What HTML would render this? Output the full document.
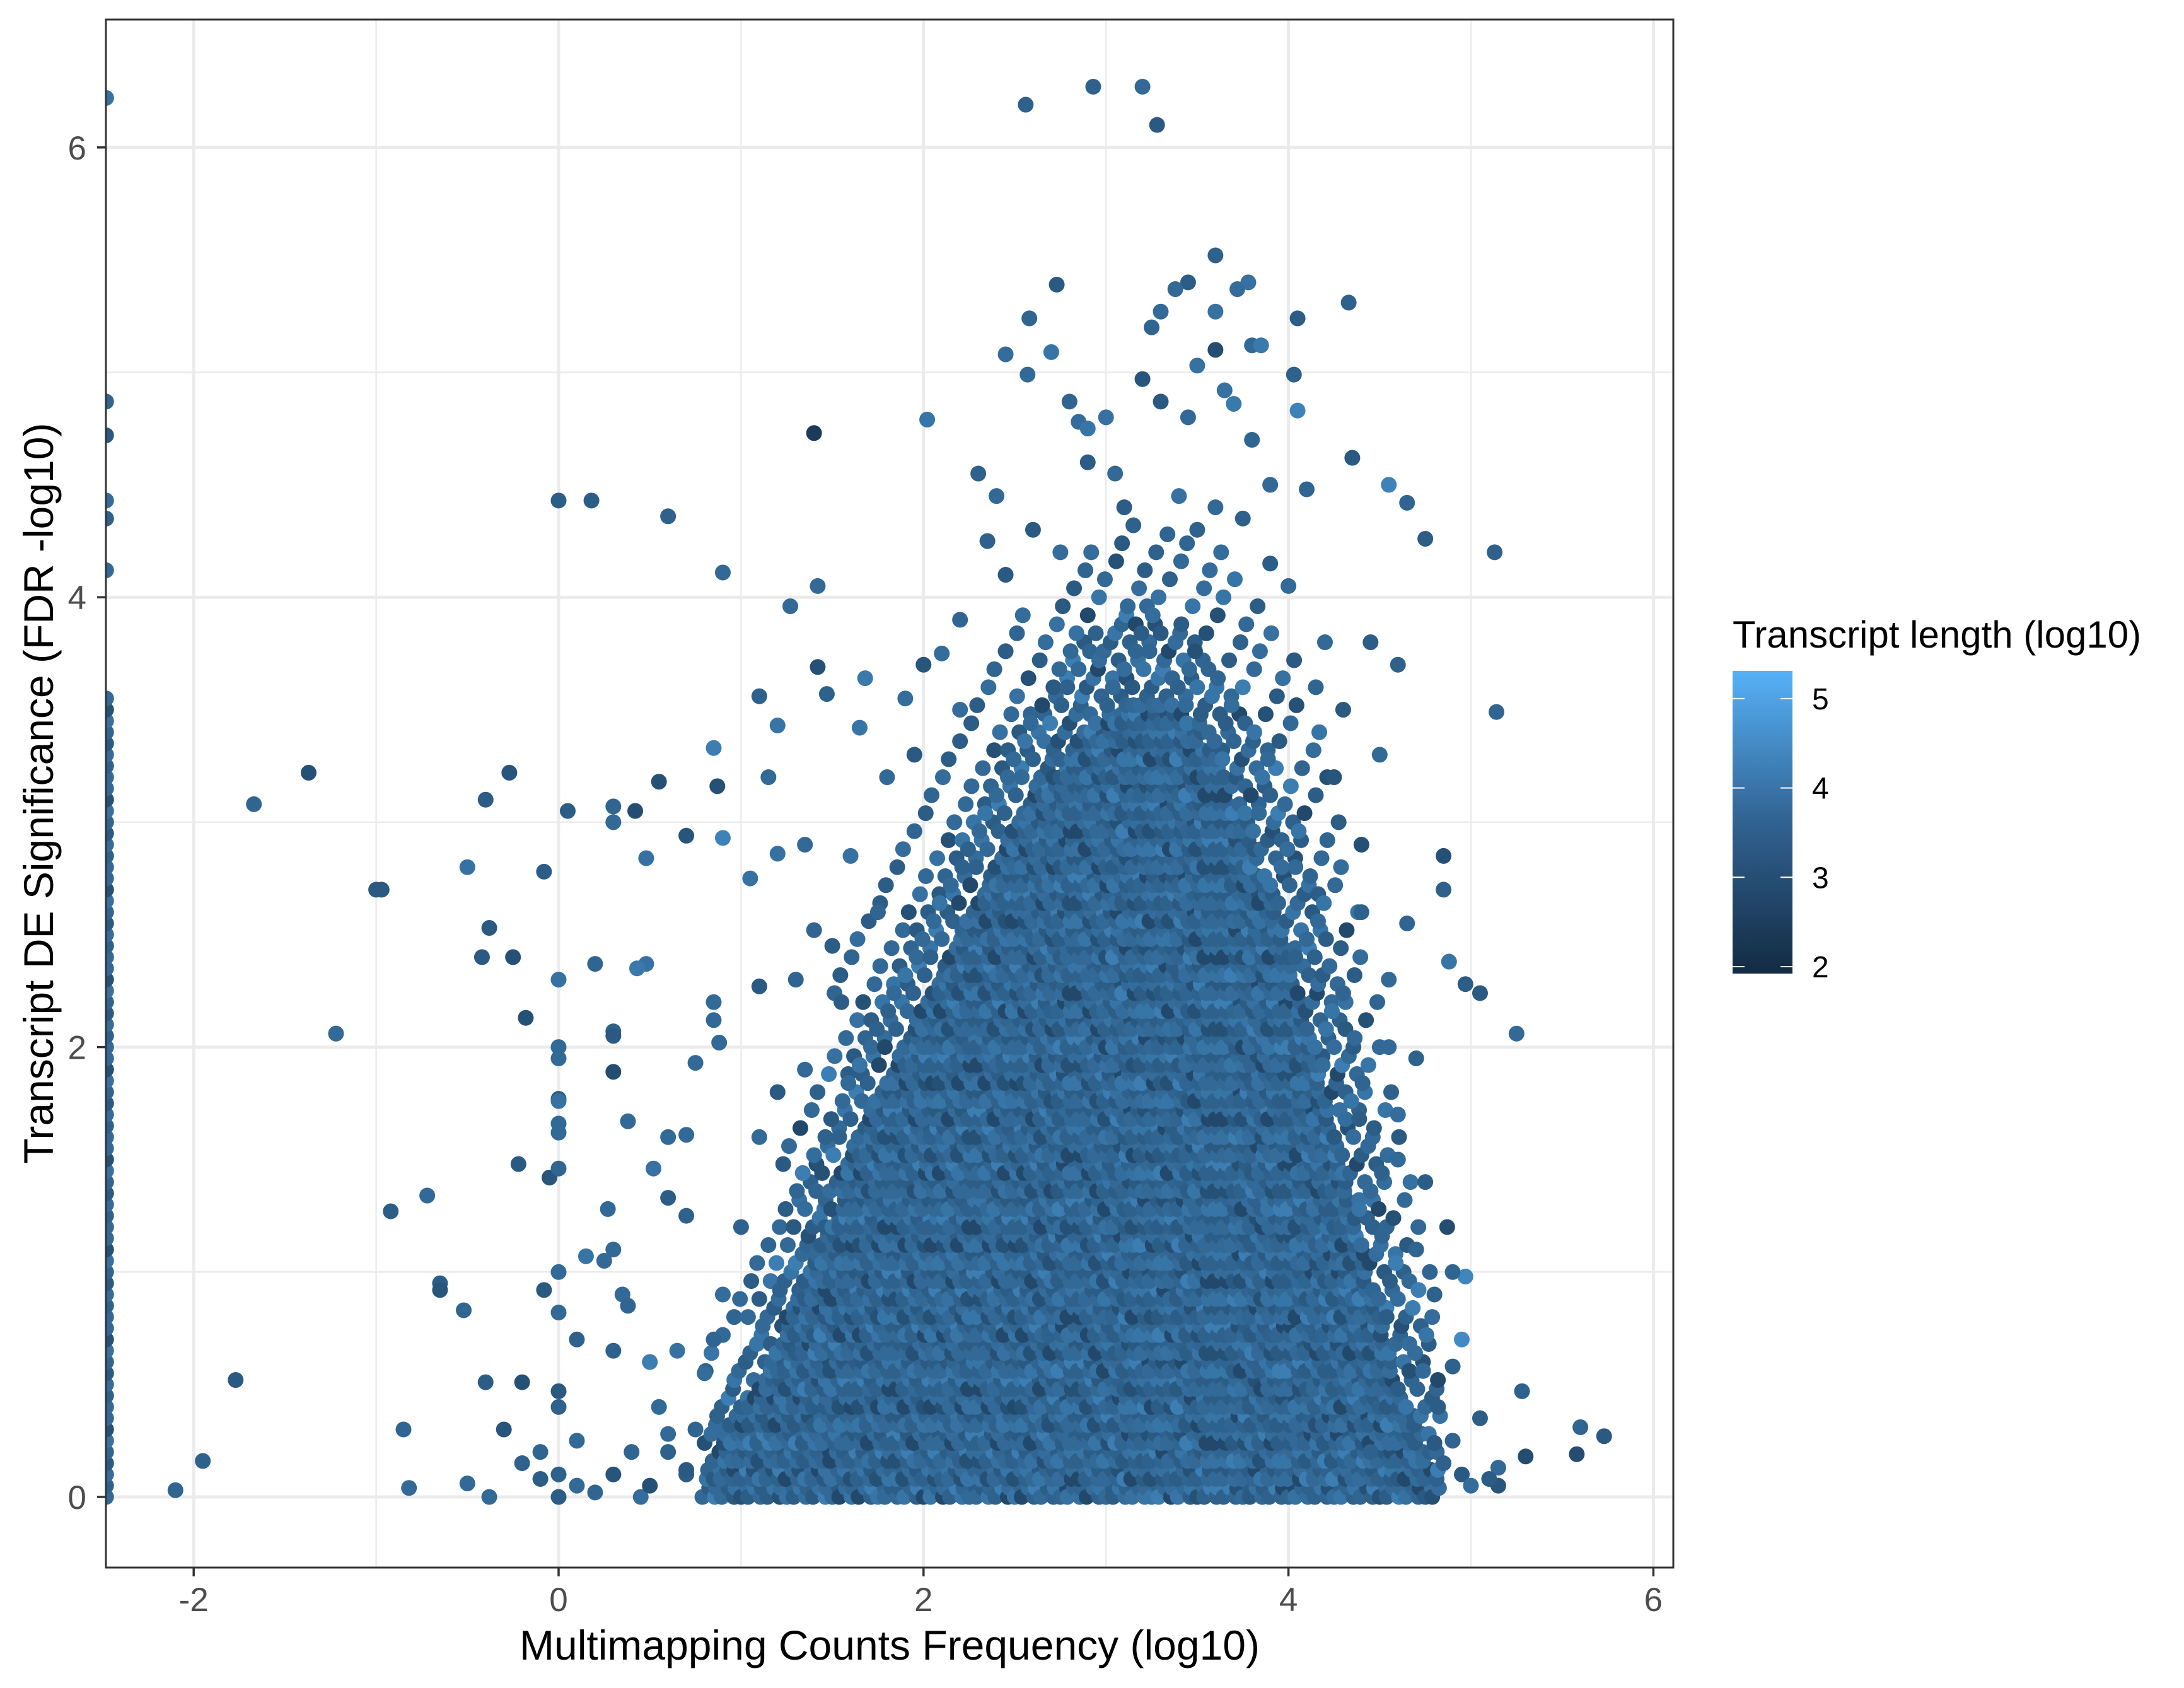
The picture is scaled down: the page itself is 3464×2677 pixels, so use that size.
<!DOCTYPE html>
<html><head><meta charset="utf-8">
<style>
html,body{margin:0;padding:0;background:#fff;}
svg{display:block;}
text{font-family:"Liberation Sans",Arial,sans-serif;}
</style></head>
<body>
<svg id="chart" width="3464" height="2677" viewBox="0 0 3464 2677" xmlns="http://www.w3.org/2000/svg">
<defs>
<clipPath id="panelClip"><rect x="168" y="31" width="2486" height="2455"/></clipPath>
<linearGradient id="cbar" x1="0" y1="1" x2="0" y2="0">
<stop offset="0" stop-color="#132B43"/><stop offset="0.5" stop-color="#316291"/><stop offset="1" stop-color="#56B1F7"/>
</linearGradient>
</defs>
<rect x="168" y="31" width="2486" height="2455" fill="#fff"/>
<g id="grid"></g>
<g id="points" clip-path="url(#panelClip)"></g>
<rect x="168" y="31" width="2486" height="2455" fill="none" stroke="#333" stroke-width="3"/>
<g id="axes"></g>
<text x="1411" y="2632" font-size="66" text-anchor="middle" fill="#000">Multimapping Counts Frequency (log10)</text>
<text transform="translate(84,1258) rotate(-90)" font-size="66" text-anchor="middle" fill="#000">Transcript DE Significance (FDR -log10)</text>
<g>
<text x="2748" y="1027" font-size="60" fill="#000">Transcript length (log10)</text>
<rect x="2748" y="1064" width="95" height="480" fill="url(#cbar)"/>
<g id="legendTicks"></g>
</g>
</svg>
<script>
const xTicks=[-2,0,2,4,6];
const xTickLabels=["-2","0","2","4","6"];
const xMinor=[-1,1,3,5];
const yTicks=[0,2,4,6];
const yTickLabels=["0","2","4","6"];
const yMinor=[1,3,5];
const legendTicks=[2,3,4,5];
const legendTickLabels=["2","3","4","5"];
// scattered points (x, y, transcript length)
const ptX=[3.2,2.93,2.56,3.28,3.6,2.73,3.45,3.38,3.78,3.72,3.3,3.25,3.6,4.33,4.05,2.58,3.8,3.6,3.85,2.7,2.45,3.5,2.57,4.03,3.2,3.65,3.3,2.8,3.7,4.05,2.02,2.85,3.0,3.45,2.9,3.8,1.4,4.35,2.3,4.55,4.65,4.75,5.13,4.1,3.9,0.0,0.18,0.6,0.9,1.42,1.27,1.42,1.68,1.1,1.47,5.14,1.9,1.65,1.2,0.85,-1.37,-0.27,1.15,0.55,0.87,-0.4,-1.67,0.3,0.05,0.42,0.3,0.7,0.9,1.35,1.2,0.48,4.85,-0.5,-0.08,1.05,-1.0,-0.97,4.85,-0.38,1.4,-0.42,-0.25,0.48,0.2,0.43,0.0,4.88,4.97,5.05,1.1,0.85,-0.18,0.85,-1.22,0.3,0.3,5.25,0.88,0.0,0.0,0.75,0.3,0.0,0.0,0.0,0.0,0.6,0.7,0.38,-0.22,0.52,-0.05,0.0,-0.72,-0.92,0.27,0.6,0.7,0.3,0.15,0.25,-0.65,-0.65,0.0,-0.08,0.35,0.38,-0.52,0.0,4.97,4.87,4.95,4.9,5.28,5.05,5.6,5.73,5.58,5.3,5.15,5.15,-1.77,-0.4,-0.2,-0.85,-0.3,-1.95,-0.2,-2.1,-0.82,-0.38,-0.5,0.0,0.0,-0.1,0.1,0.0,0.0,0.1,-0.1,0.3,0.2,0.45,0.6,0.55,0.7,0.75,0.8,0.5,0.65,0.1,0.3,0.4,2.4,2.6,2.75,3.1,3.4,3.6,3.75,2.45,2.2,2.1,2.0,4.2,4.3,4.45,4.6,4.5,4.4,4.65,4.55,4.7,4.6,4.75,4.7,4.8,1.8,1.6,1.5,1.3,1.2,1.1,1.0,0.9,0.85,2.9,3.05,3.5,3.9,4.0,4.15,2.35,2.2,1.95,1.75,1.55,1.35,4.25,4.4,4.55,4.9,4.82,4.6,4.45,4.95,5.0,4.9,5.1,4.85,0.7,0.6,0.5];
const ptY=[6.27,6.27,6.19,6.1,5.52,5.39,5.4,5.37,5.4,5.37,5.27,5.2,5.27,5.31,5.24,5.24,5.12,5.1,5.12,5.09,5.08,5.03,4.99,4.99,4.97,4.92,4.87,4.87,4.86,4.83,4.79,4.78,4.8,4.8,4.75,4.7,4.73,4.62,4.55,4.5,4.42,4.26,4.2,4.48,4.5,4.43,4.43,4.36,4.11,4.05,3.96,3.69,3.64,3.56,3.57,3.49,3.55,3.42,3.43,3.33,3.22,3.22,3.2,3.18,3.16,3.1,3.08,3.07,3.05,3.05,3.0,2.94,2.93,2.9,2.86,2.84,2.85,2.8,2.78,2.75,2.7,2.7,2.7,2.53,2.52,2.4,2.4,2.37,2.37,2.35,2.3,2.38,2.28,2.24,2.27,2.2,2.13,2.12,2.06,2.07,2.05,2.06,2.02,2.0,1.95,1.93,1.89,1.77,1.76,1.66,1.62,1.6,1.61,1.67,1.48,1.46,1.42,1.46,1.34,1.27,1.28,1.33,1.25,1.1,1.07,1.05,0.95,0.92,1.0,0.92,0.9,0.85,0.83,0.82,0.98,1.2,0.7,0.58,0.47,0.35,0.31,0.27,0.19,0.18,0.13,0.05,0.52,0.51,0.51,0.3,0.3,0.16,0.15,0.03,0.04,0.0,0.06,0.0,0.1,0.2,0.25,0.4,0.47,0.05,0.08,0.1,0.02,0.0,0.2,0.4,0.1,0.3,0.55,0.6,0.65,0.7,0.65,0.2,4.45,4.3,4.2,4.4,4.45,4.4,4.35,4.1,3.9,3.75,3.7,3.8,3.5,3.8,3.7,3.3,2.9,2.55,2.3,1.95,1.7,1.4,1.1,0.9,3.2,2.85,2.45,2.3,1.8,1.6,1.2,0.9,0.7,4.6,4.55,4.3,4.15,4.05,3.6,4.25,3.5,3.3,2.6,2.2,1.9,3.2,2.6,2.0,1.0,0.4,1.5,0.2,0.1,0.05,0.25,0.08,0.15,0.12,0.28,0.05];
const ptC=[3.6,3.4,3.4,3.2,3.4,3.2,3.3,3.6,3.8,3.7,3.6,3.5,3.8,3.4,3.3,3.5,3.6,2.9,4.0,3.9,3.7,3.8,3.6,3.4,3.1,3.8,3.2,3.5,4.0,4.2,3.9,3.7,3.8,3.6,3.9,3.5,2.4,3.2,3.4,4.2,3.5,3.3,3.4,3.5,3.6,3.3,3.3,3.4,3.6,3.6,3.6,3.0,4.0,3.4,3.4,3.5,3.7,3.9,3.9,4.1,3.0,3.1,3.6,3.0,3.0,3.3,3.5,3.5,3.3,2.9,3.6,3.1,4.2,3.6,3.8,3.8,3.0,3.8,3.3,3.8,3.2,3.2,3.4,3.2,3.5,3.2,3.0,3.8,3.5,4.0,3.8,3.9,3.3,3.2,3.2,3.6,3.0,3.6,3.6,3.4,3.2,3.6,3.6,3.6,3.6,3.6,2.9,3.2,3.8,3.6,3.6,3.6,3.6,3.6,3.2,3.8,3.1,3.5,3.6,3.3,3.6,3.3,3.4,3.6,3.9,3.6,3.3,3.1,3.6,3.2,3.6,3.5,3.5,3.6,4.3,2.9,4.4,3.4,3.4,3.3,3.5,3.2,2.9,2.9,3.6,3.1,3.2,3.3,3.0,3.5,3.1,3.4,3.4,3.5,3.6,3.6,3.6,3.3,3.4,3.5,3.6,3.4,3.2,3.6,3.3,3.1,3.5,3.7,3.4,3.6,3.3,3.5,3.7,4.1,3.8,3.4,3.4,3.5,3.6,3.2,3.7,3.3,3.8,3.6,3.4,3.2,3.5,3.7,3.1,3.6,3.2,3.3,3.4,3.6,3.0,3.5,3.6,3.4,3.7,3.3,3.5,3.4,3.6,3.8,3.3,3.5,3.2,3.6,3.4,3.7,3.5,3.3,3.6,3.4,3.3,3.6,3.5,3.4,3.7,3.2,3.5,3.3,3.6,3.1,3.4,3.6,3.5,3.3,3.6,3.4,3.2,3.7,3.5,3.3,3.4,3.2,3.6,3.0,3.5,3.7,3.4,3.6];
// dense-core envelope: x bins, upper extent of solid cloud, upper extent of sparse fringe
const envX=[0.8,1.0,1.2,1.4,1.6,1.8,2.0,2.2,2.4,2.6,2.8,3.0,3.2,3.4,3.6,3.8,4.0,4.2,4.4,4.6,4.8];
const envTop=[0.15,0.4,0.7,1.1,1.5,1.9,2.2,2.55,2.85,3.1,3.35,3.5,3.55,3.5,3.3,2.9,2.4,1.8,1.1,0.5,0.15];
const fringeTop=[0.6,1.0,1.5,2.0,2.5,2.9,3.2,3.5,3.8,4.0,4.2,4.3,4.4,4.3,4.2,4.0,3.8,3.3,2.6,1.8,1.0];
const coreC=[3.6,3.3,3.9,3.5,3.0,3.7,3.4,4.1,3.6,3.2,3.8,3.5,2.8,3.7,3.4,3.9,3.6,3.3];
// clipped column at left edge (x below axis minimum)
const edgeRange=[0,3.58];
const edgeExtraY=[4.12,4.35,4.43,4.72,4.87,6.22];
const edgeC=[3.6,3.4,3.7,3.2,3.5,3.8,3.0,3.6];

const NS="http://www.w3.org/2000/svg";
const X0=886,XU=289.4,Y0=2374,YU=356.7,XMIN=-2.48;
function sx(v){return X0+v*XU;}
function sy(v){return Y0-v*YU;}
function col(c){
  if(c===undefined||isNaN(c))c=3.5;
  const lo=[19,43,67],hi=[86,177,247];
  let t=(c-1.92)/(5.31-1.92);t=Math.max(0,Math.min(1,t));
  t=Math.pow(t,1.1);
  const r=lo.map((a,i)=>Math.round(a+(hi[i]-a)*t));
  return "rgb("+r.join(",")+")";
}
function el(tag,attrs,parent){const e=document.createElementNS(NS,tag);for(const k in attrs)e.setAttribute(k,attrs[k]);parent.appendChild(e);return e;}
const grid=document.getElementById("grid");
xMinor.forEach(v=>{const l=el("line",{x1:sx(v),x2:sx(v),y1:31,y2:2486,stroke:"#EBEBEB","stroke-width":2.5},grid);

});
yMinor.forEach(v=>{const l=el("line",{x1:168,x2:2654,y1:sy(v),y2:sy(v),stroke:"#EBEBEB","stroke-width":2.5},grid);

});
xTicks.forEach(v=>{const l=el("line",{x1:sx(v),x2:sx(v),y1:31,y2:2486,stroke:"#EBEBEB","stroke-width":5},grid);

});
yTicks.forEach(v=>{const l=el("line",{x1:168,x2:2654,y1:sy(v),y2:sy(v),stroke:"#EBEBEB","stroke-width":5},grid);

});

const pts=document.getElementById("points");
function dot(x,y,c,name){const d=el("circle",{cx:x,cy:y,r:12.5,fill:col(c)},pts);

}
// left edge column
for(let y=edgeRange[0],i=0;y<=edgeRange[1];y+=0.05,i++){dot(sx(XMIN),sy(y),edgeC[i%edgeC.length],'edge-point');}
edgeExtraY.forEach((y,i)=>dot(sx(XMIN),sy(y),edgeC[i%edgeC.length],'edge-point'));
// dense core
function interp(arr,x){for(let i=0;i<envX.length-1;i++){if(x>=envX[i]&&x<=envX[i+1]){const t=(x-envX[i])/(envX[i+1]-envX[i]);return arr[i]+(arr[i+1]-arr[i])*t;}}return 0;}
let k=0;
const DX=0.05,DY=0.04;
for(let x=envX[0],ci=0;x<=envX[envX.length-1]+1e-9;x+=DX,ci++){
  const top=interp(envTop,x), ftop=interp(fringeTop,x);
  for(let y=0,row=0;y<=ftop;y+=DY,row++){
    const xx=x+((row%2)?DX/2:0)+(((row*7+ci*3)%5)-2)*0.006;
    if(y>top){
      const h=(row*5+ci*11)%7;
      const frac=(y-top)/Math.max(0.01,ftop-top);
      if(h>=(frac<0.5?3:1)) continue;
    }
    dot(sx(xx),sy(y),coreC[k%coreC.length],'core-point');k++;
  }
}
// scattered points
ptX.forEach((x,i)=>dot(sx(x),sy(ptY[i]),ptC[i],'scatter-point'));

const axes=document.getElementById("axes");
xTicks.forEach((v,i)=>{const t=el("line",{x1:sx(v),x2:sx(v),y1:2486,y2:2500,stroke:"#333","stroke-width":3.5},axes);


const tx=el("text",{x:sx(v),y:2555,"font-size":53,"text-anchor":"middle",fill:"#4D4D4D"},axes);tx.textContent=xTickLabels[i];

});
yTicks.forEach((v,i)=>{const t=el("line",{x1:154,x2:168,y1:sy(v),y2:sy(v),stroke:"#333","stroke-width":3.5},axes);


const tx=el("text",{x:137,y:sy(v)+19,"font-size":53,"text-anchor":"end",fill:"#4D4D4D"},axes);tx.textContent=yTickLabels[i];

});
const lg=document.getElementById("legendTicks");
function ly(v){return 1533-(v-2)*141.7;}
legendTicks.forEach((v,i)=>{
 const a=el("line",{x1:2748,x2:2767,y1:ly(v),y2:ly(v),stroke:"#fff","stroke-width":2},lg);
 
 
 const b=el("line",{x1:2824,x2:2843,y1:ly(v),y2:ly(v),stroke:"#fff","stroke-width":2},lg);
 
 
 const t=el("text",{x:2874,y:ly(v)+17,"font-size":48,fill:"#000"},lg);t.textContent=legendTickLabels[i];
 
 
});
</script>
</body></html>
